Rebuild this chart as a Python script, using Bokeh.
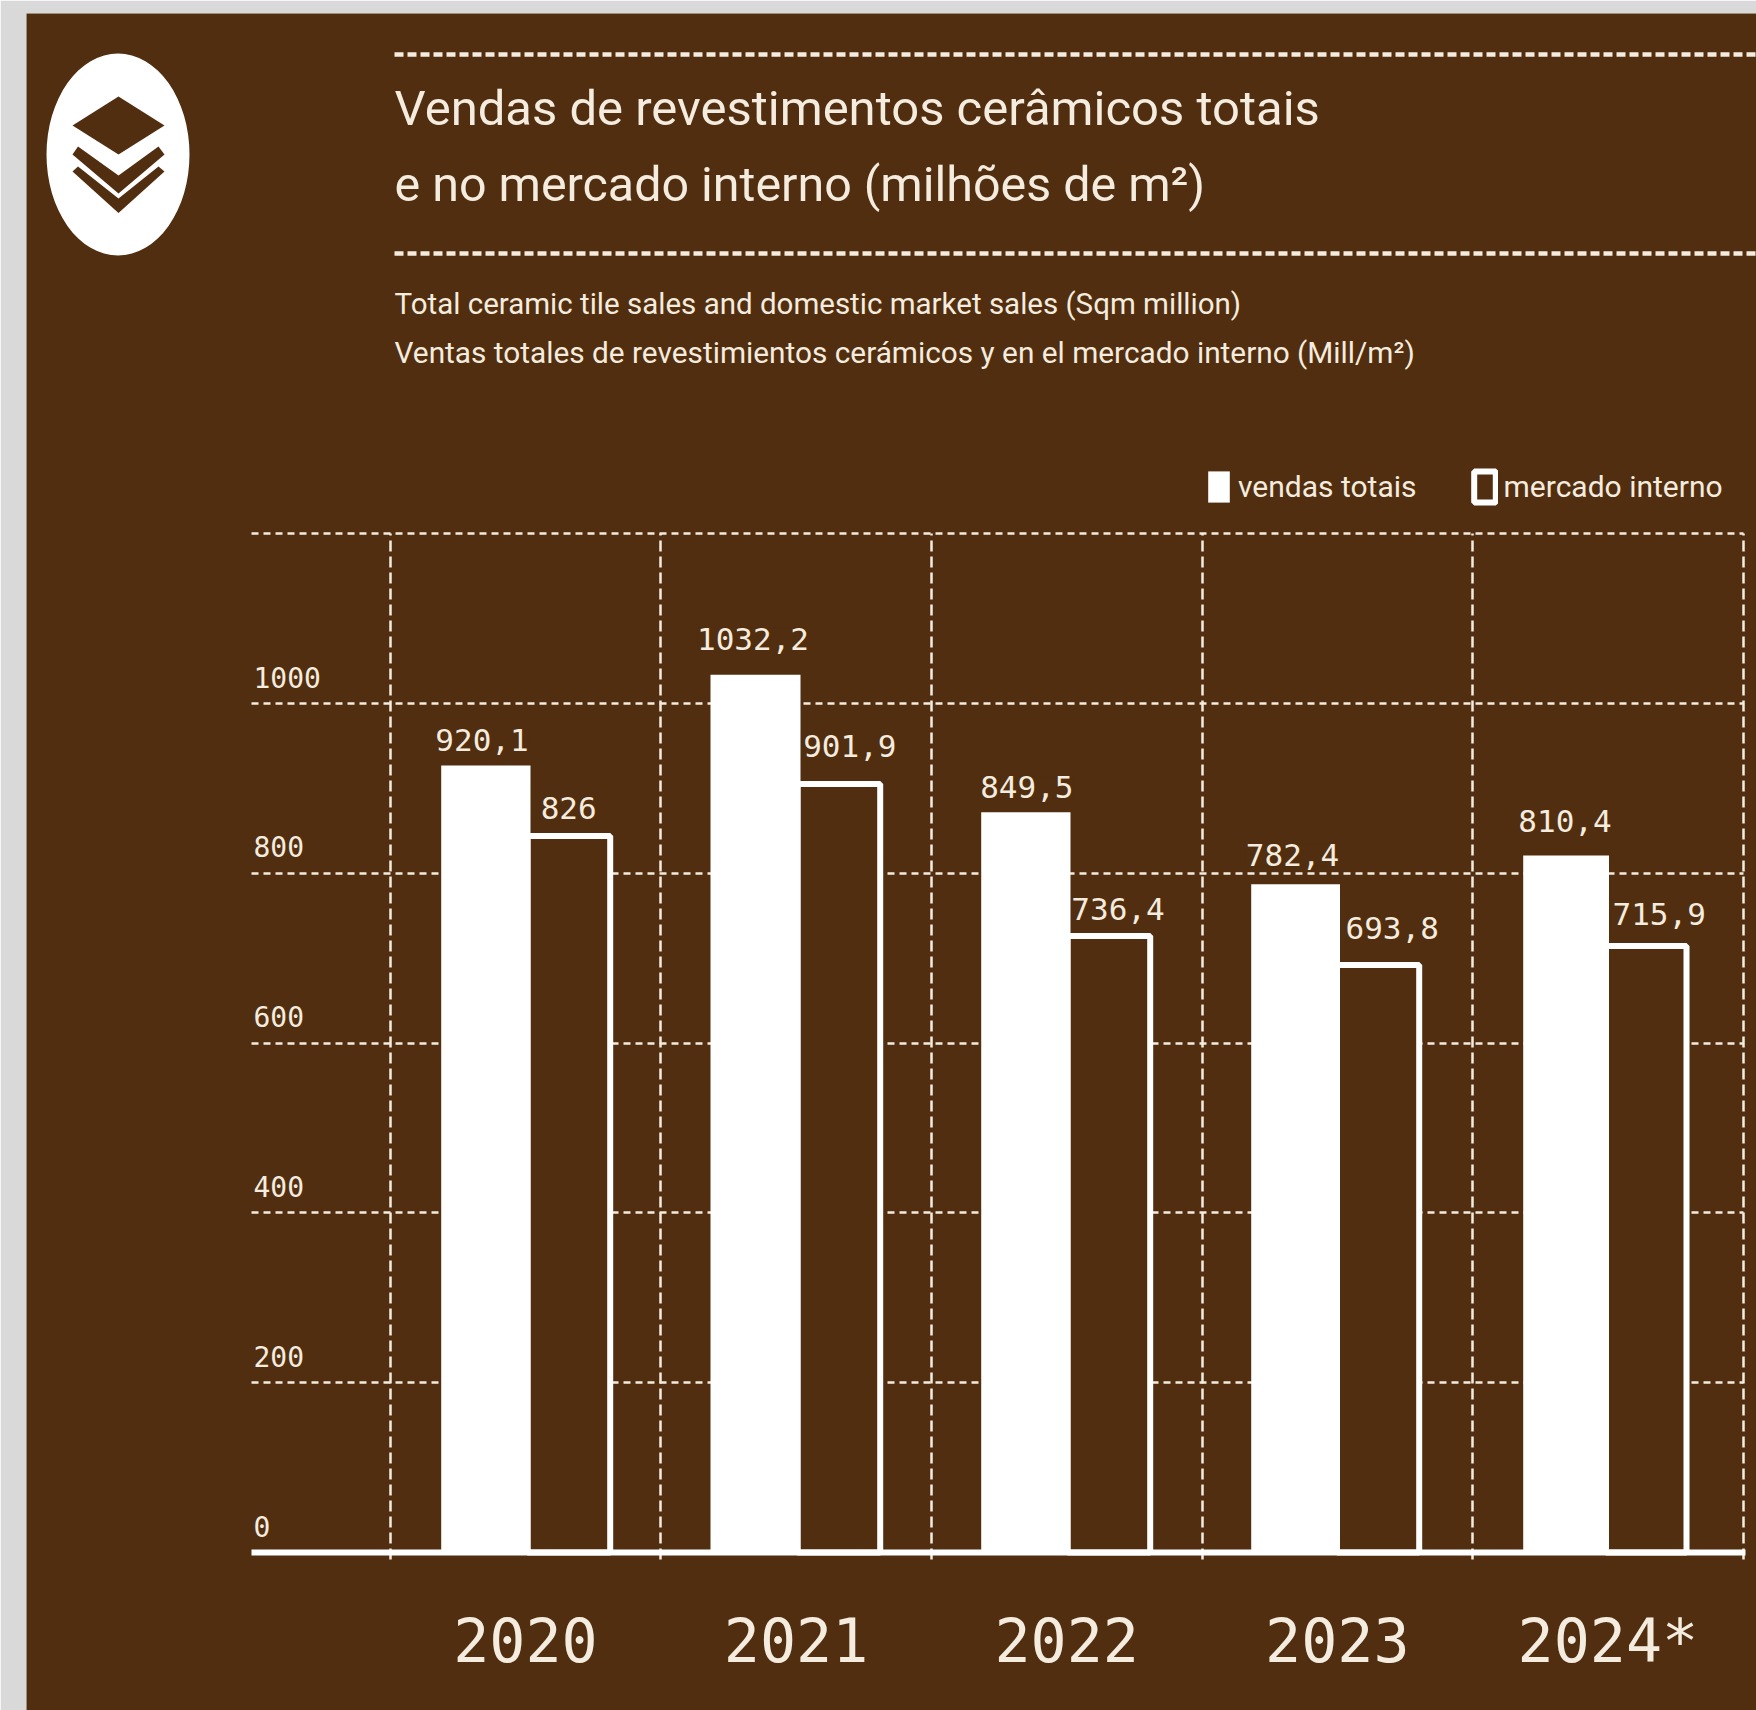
from bokeh.plotting import figure
from bokeh.models import (ColumnDataSource, FixedTicker, Grid, Label, LabelSet, Legend,
                          LegendItem, LinearAxis, Range1d)
from bokeh.core.properties import value
from bokeh.embed import file_html
from bokeh.resources import INLINE

# ---------- data ----------
years = ["2020", "2021", "2022", "2023", "2024*"]
vendas_totais_bars = [927, 1034, 872, 787, 821]
mercado_interno_bars = [843.8, 905.2, 726.2, 692, 714.5]
vendas_totais_labels = ["920,1", "1032,2", "849,5", "782,4", "810,4"]
mercado_interno_labels = ["826", "901,9", "736,4", "693,8", "715,9"]
y_ticks = [0, 200, 400, 600, 800, 1000]
y_grid_ticks = [200, 400, 600, 800, 1000, 1200]

# ---------- style ----------
BG, GREY, INK, WHITE = "#522e10", "#d9d9d9", "#f4ecdf", "#ffffff"
SANS = "Roboto"
MONO = "DejaVu Sans Mono"

# ---------- page geometry (reference px) ----------
W, H = 1756, 1710
F_L, F_T = 26, 13
C0, PITCH, Y0, PXU = 525.0, 270.6, 1552.0, 0.849
xd = lambda px: (px - C0) / PITCH
yd = lambda py: (Y0 - py) / PXU

p = figure(width=W, height=H, output_backend="svg", toolbar_location=None,
           x_range=Range1d(xd(F_L), xd(W)), y_range=Range1d(yd(H), yd(F_T)),
           x_axis_type=None, y_axis_type=None,
           min_border_left=F_L, min_border_top=F_T, min_border_right=0, min_border_bottom=0,
           background_fill_color=BG, border_fill_color=GREY, outline_line_color=None)

# grid
G_L, G_R = xd(251), xd(1743)
yg = Grid(dimension=1, ticker=FixedTicker(ticks=y_grid_ticks), cross_bounds=(G_L, G_R),
          grid_line_color=INK, grid_line_width=2.5, grid_line_dash="7 5")
xg = Grid(dimension=0, ticker=FixedTicker(ticks=[i - 0.5 for i in range(len(years) + 1)]),
          cross_bounds=(-8, 1200), grid_line_color=INK, grid_line_width=2.5, grid_line_dash="11 5")
p.add_layout(yg)
p.add_layout(xg)

# bars: edges relative to each category centre, in reference px
white_l = [-84.3, -85.6, -85.5, -86.1, -84.7]
white_r = [5, 4.4, 3.8, 2.7, 1.1]
out_l = [r - 3 for r in white_r]
out_r = [84.7, 84.1, 83.5, 81.9, 78.6]
idx = list(range(len(years)))
src = ColumnDataSource(dict(
    a=vendas_totais_bars, b=mercado_interno_bars,
    xa=[i + (l + r) / 2 / PITCH for i, l, r in zip(idx, white_l, white_r)],
    wa=[(r - l) / PITCH for l, r in zip(white_l, white_r)],
    xb=[i + (l + r) / 2 / PITCH for i, l, r in zip(idx, out_l, out_r)],
    wb=[(r - l) / PITCH for l, r in zip(out_l, out_r)]))
r2 = p.vbar(x="xb", top="b", bottom=0, width="wb", source=src, fill_color=BG, line_color=WHITE, line_width=6)
r1 = p.vbar(x="xa", top="a", bottom=0, width="wa", source=src, fill_color=WHITE, line_color=None)

# value labels: offset from category centre and height above the bar, in reference px
dx_a = [-43.5, -43.1, -39.9, -44.8, -42.9]
dx_b = [43.2, 53.7, 51.3, 54.9, 51.3]
gap_a = [25, 36, 25, 29, 34]
gap_b = [28.5, 38, 27, 36.5, 31.5]
lab = ColumnDataSource(dict(
    x=[i + d / PITCH for i, d in zip(idx, dx_a)] + [i + d / PITCH for i, d in zip(idx, dx_b)],
    y=[v + g / PXU for v, g in zip(vendas_totais_bars, gap_a)] + [v + g / PXU for v, g in zip(mercado_interno_bars, gap_b)],
    t=vendas_totais_labels + mercado_interno_labels))
p.add_layout(LabelSet(x="x", y="y", text="t", source=lab, text_align="center", text_baseline="middle",
                      text_font=value(MONO), text_font_size="31px", text_color=INK, background_fill_color=BG))

# axes
xa = LinearAxis(fixed_location=0, ticker=FixedTicker(ticks=idx),
                major_label_overrides={i: y for i, y in enumerate(years)},
                bounds=(G_L, xd(1745)), axis_line_color=WHITE, axis_line_width=6,
                major_tick_line_color=None, minor_tick_line_color=None, major_label_standoff=47,
                major_label_text_font=MONO, major_label_text_font_size="60px",
                major_label_text_color=INK)
p.add_layout(xa, "below")

# y tick labels sit above their gridlines, flush with the gridlines' left end
p.text(x=[G_L] * len(y_ticks), y=y_ticks, text=[str(t) for t in y_ticks], x_offset=2, y_offset=-16,
       text_font=value(MONO), text_font_size="28px", text_color=INK, text_align="left", text_baseline="bottom")

# header rules
p.segment(x0=[xd(394)] * 2, x1=[xd(W)] * 2, y0=[yd(54), yd(253)], y1=[yd(54), yd(253)],
          line_color=INK, line_width=4.5, line_dash="9 4")

# icon
p.ellipse(x=[xd(117.5)], y=[yd(154)], width=143 / PITCH, height=202 / PXU, fill_color=WHITE, line_color=None)
icon_x = [[72, 118, 164, 118],
          [72, 77.5, 118, 158, 164, 118],
          [72, 77.5, 118, 158, 164, 118]]
icon_y = [[125, 96, 125, 154],
          [154, 146, 175, 146, 154, 193],
          [171, 166, 198, 166, 171, 212.5]]
p.patches([[xd(v) for v in s] for s in icon_x], [[yd(v) for v in s] for s in icon_y], fill_color=BG, line_color=None)

# header text
for text, px, py, size in [
    ("Vendas de revestimentos cerâmicos totais", 394, 108, "49px"),
    ("e no mercado interno (milhões de m²)", 394, 184, "48.4px"),
    ("Total ceramic tile sales and domestic market sales (Sqm million)", 394, 303, "29.5px"),
    ("Ventas totales de revestimientos cerámicos y en el mercado interno (Mill/m²)", 394, 352, "29.8px"),
]:
    p.add_layout(Label(x=xd(px), y=yd(py), text=text, text_font=SANS, text_font_size=size,
                       text_color=INK, text_baseline="middle", text_align="left"))

# legend
leg = Legend(items=[LegendItem(label="vendas totais", renderers=[r1]),
                    LegendItem(label="mercado interno", renderers=[r2])],
             orientation="horizontal", location=(1205 - F_L, H - 506), padding=0, margin=0,
             glyph_width=27, glyph_height=39, label_standoff=6, spacing=54,
             background_fill_alpha=0, border_line_color=None,
             label_text_font=SANS, label_text_font_size="30px", label_text_color=INK)
p.add_layout(leg)

open("out.html", "w").write(file_html(p, INLINE))
